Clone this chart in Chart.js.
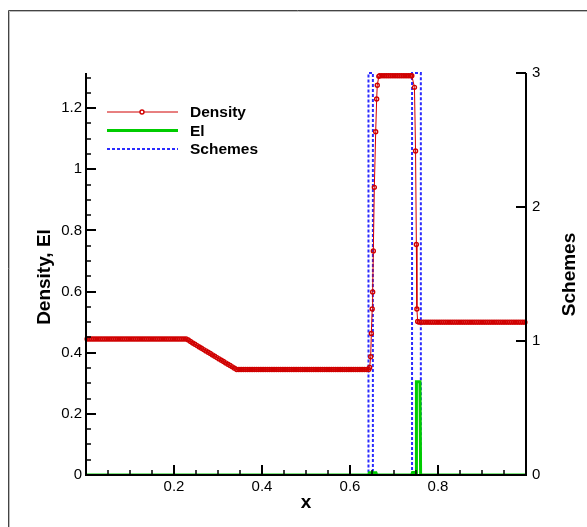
<!DOCTYPE html>
<html>
<head>
<meta charset="utf-8">
<script src="https://cdn.jsdelivr.net/npm/chart.js@4.4.1/dist/chart.umd.min.js"></script>
<style>
  html, body { margin: 0; padding: 0; background: #fff; }
  canvas { display: block; }
</style>
</head>
<body>
<canvas id="chart" width="587" height="527"></canvas>
<script>
// Density (left axis)
const densityX = [
  0.0025,0.0075,0.0125,0.0175,0.0225,0.0275,0.0325,0.0375,0.0425,0.0475,
  0.0525,0.0575,0.0625,0.0675,0.0725,0.0775,0.0825,0.0875,0.0925,0.0975,
  0.1025,0.1075,0.1125,0.1175,0.1225,0.1275,0.1325,0.1375,0.1425,0.1475,
  0.1525,0.1575,0.1625,0.1675,0.1725,0.1775,0.1825,0.1875,0.1925,0.1975,
  0.2025,0.2075,0.2125,0.2175,0.2225,0.2275,
  0.2325,0.2375,0.2425,0.2475,0.2525,0.2575,0.2625,0.2675,0.2725,0.2775,
  0.2825,0.2875,0.2925,0.2975,0.3025,0.3075,0.3125,0.3175,0.3225,0.3275,
  0.3325,0.3375,
  0.3425,0.3475,0.3525,0.3575,0.3625,0.3675,0.3725,0.3775,0.3825,0.3875,
  0.3925,0.3975,0.4025,0.4075,0.4125,0.4175,0.4225,0.4275,0.4325,0.4375,
  0.4425,0.4475,0.4525,0.4575,0.4625,0.4675,0.4725,0.4775,0.4825,0.4875,
  0.4925,0.4975,0.5025,0.5075,0.5125,0.5175,0.5225,0.5275,0.5325,0.5375,
  0.5425,0.5475,0.5525,0.5575,0.5625,0.5675,0.5725,0.5775,0.5825,0.5875,
  0.5925,0.5975,0.6025,0.6075,0.6125,0.6175,0.6225,0.6275,0.6325,0.6375,
  0.6425,
  0.6447,0.647,0.6485,0.6505,0.6515,0.653,0.6553,0.6584,0.6606,0.662,0.6655,
  0.6675,0.6725,0.6775,0.6825,0.6875,0.6925,0.6975,0.7025,0.7075,0.7125,
  0.7175,0.7225,0.7275,0.7325,0.7375,0.7405,
  0.7465,0.749,0.7508,0.752,0.7538,
  0.7575,0.7625,0.7675,0.7725,0.7775,0.7825,0.7875,0.7925,0.7975,
  0.8025,0.8075,0.8125,0.8175,0.8225,0.8275,0.8325,0.8375,0.8425,0.8475,
  0.8525,0.8575,0.8625,0.8675,0.8725,0.8775,0.8825,0.8875,0.8925,0.8975,
  0.9025,0.9075,0.9125,0.9175,0.9225,0.9275,0.9325,0.9375,0.9425,0.9475,
  0.9525,0.9575,0.9625,0.9675,0.9725,0.9775,0.9825,0.9875,0.9925,0.9975
];
const density = [
  0.445,0.445,0.445,0.445,0.445,0.445,0.445,0.445,0.445,0.445,
  0.445,0.445,0.445,0.445,0.445,0.445,0.445,0.445,0.445,0.445,
  0.445,0.445,0.445,0.445,0.445,0.445,0.445,0.445,0.445,0.445,
  0.445,0.445,0.445,0.445,0.445,0.445,0.445,0.445,0.445,0.445,
  0.445,0.445,0.445,0.445,0.445,0.445,
  0.4415,0.4365,0.432,0.4276,0.4233,0.4189,0.4146,0.4102,0.4059,0.4015,
  0.3972,0.3928,0.3885,0.3841,0.3798,0.3754,0.3711,0.3667,0.3624,0.358,
  0.3537,0.3495,
  0.345,0.345,0.345,0.345,0.345,0.345,0.345,0.345,0.345,0.345,
  0.345,0.345,0.345,0.345,0.345,0.345,0.345,0.345,0.345,0.345,
  0.345,0.345,0.345,0.345,0.345,0.345,0.345,0.345,0.345,0.345,
  0.345,0.345,0.345,0.345,0.345,0.345,0.345,0.345,0.345,0.345,
  0.345,0.345,0.345,0.345,0.345,0.345,0.345,0.345,0.345,0.345,
  0.345,0.345,0.345,0.345,0.345,0.345,0.345,0.345,0.345,0.345,
  0.345,
  0.352,0.387,0.463,0.543,0.599,0.733,0.941,1.123,1.23,1.275,1.304,
  1.306,1.306,1.306,1.306,1.306,1.306,1.306,1.306,1.306,1.306,
  1.306,1.306,1.306,1.306,1.306,1.306,
  1.268,1.06,0.754,0.543,0.502,
  0.5,0.5,0.5,0.5,0.5,0.5,0.5,0.5,0.5,
  0.5,0.5,0.5,0.5,0.5,0.5,0.5,0.5,0.5,0.5,
  0.5,0.5,0.5,0.5,0.5,0.5,0.5,0.5,0.5,0.5,
  0.5,0.5,0.5,0.5,0.5,0.5,0.5,0.5,0.5,0.5,
  0.5,0.5,0.5,0.5,0.5,0.5,0.5,0.5,0.5,0.5
];

// El (left axis)
const elX = [0, 0.642, 0.644, 0.659, 0.661, 0.74, 0.742, 0.75, 0.751, 0.759, 0.7605, 1];
const el  = [0, 0, 0.007, 0.007, 0, 0, 0.008, 0.008, 0.305, 0.305, 0, 0];

// Schemes (right axis)
const schemesX = [0, 0.642, 0.642, 0.652, 0.652, 0.741, 0.741, 0.761, 0.761, 1];
const schemes  = [0, 0, 3, 3, 0, 0, 3, 3, 0, 0];

// tick labels
const xTickLabels = [0.2, 0.4, 0.6, 0.8];
const yTickLabels = [0, 0.2, 0.4, 0.6, 0.8, 1, 1.2];
const y2TickLabels = [0, 1, 2, 3];

const FONT = '"Liberation Sans", Arial, Helvetica, sans-serif';
const RED = '#d00000';
const GREEN = '#00cc00';
const BLUE = '#2b2bff';

const toPoints = (xs, ys) => xs.map((x, i) => ({ x: x, y: ys[i] }));
const near = (v, list) => list.some((t) => Math.abs(t - v) < 1e-6);
const fmt = (v) => String(+Number(v).toFixed(2));

// frame, inward ticks, axis lines, titles and legend
const decorations = {
  id: "decorations",
  beforeDraw(chart) {
    const ctx = chart.ctx;
    ctx.save();
    ctx.fillStyle = "#fff";
    ctx.fillRect(0, 0, chart.width, chart.height);
    ctx.lineWidth = 1;
    ctx.strokeStyle = "#444";
    ctx.beginPath();
    ctx.moveTo(8.5, chart.height);
    ctx.lineTo(8.5, 10.5);
    ctx.lineTo(chart.width, 10.5);
    ctx.stroke();
    ctx.strokeStyle = "#bbb";
    ctx.beginPath();
    ctx.moveTo(9.5, chart.height);
    ctx.lineTo(9.5, 11.5);
    ctx.lineTo(chart.width, 11.5);
    ctx.stroke();
    ctx.restore();
  },
  afterDatasetsDraw(chart) {
    const { ctx, chartArea: a, scales } = chart;
    const L = Math.round(a.left), R = Math.round(a.right);
    const T = Math.round(a.top), B = Math.round(a.bottom);
    ctx.save();
    ctx.strokeStyle = "#000";
    const tick = (x1, y1, x2, y2, w) => {
      ctx.lineWidth = w;
      ctx.beginPath();
      ctx.moveTo(x1, y1);
      ctx.lineTo(x2, y2);
      ctx.stroke();
    };
    scales.x.ticks.forEach((t) => {
      const p = Math.round(scales.x.getPixelForValue(t.value));
      const major = near(t.value, xTickLabels);
      tick(p, B, p, B - (major ? 10 : 5), major ? 2 : 1.5);
    });
    scales.y.ticks.forEach((t) => {
      const p = Math.round(scales.y.getPixelForValue(t.value));
      const major = near(t.value, yTickLabels);
      tick(L, p, L + (major ? 10 : 5), p, major ? 2 : 1.5);
    });
    scales.y2.ticks.forEach((t) => {
      const p = Math.round(scales.y2.getPixelForValue(t.value));
      tick(R, p, R - 10, p, 2);
    });
    ctx.lineWidth = 2;
    ctx.lineJoin = "miter";
    ctx.beginPath();
    ctx.moveTo(L, T);
    ctx.lineTo(L, B);
    ctx.lineTo(R, B);
    ctx.lineTo(R, T);
    ctx.stroke();

    // axis titles
    ctx.fillStyle = "#000";
    ctx.font = "bold 19px " + FONT;
    ctx.textAlign = "center";
    ctx.textBaseline = "alphabetic";
    ctx.fillText("x", (L + R) / 2, 508);
    ctx.save();
    ctx.translate(50, 277);
    ctx.rotate(-Math.PI / 2);
    ctx.fillText("Density, El", 0, 0);
    ctx.restore();
    ctx.save();
    ctx.translate(575, 274.5);
    ctx.rotate(-Math.PI / 2);
    ctx.fillText("Schemes", 0, 0);
    ctx.restore();

    // legend
    const ds = chart.data.datasets;
    const rows = [112, 130.5, 149];
    ctx.font = "bold 15.5px " + FONT;
    ctx.textAlign = "left";
    ds.forEach((d, i) => {
      const y = rows[i];
      ctx.save();
      ctx.strokeStyle = d.borderColor;
      ctx.lineWidth = d.borderWidth;
      ctx.setLineDash(d.borderDash || []);
      ctx.beginPath();
      ctx.moveTo(107, y);
      ctx.lineTo(178, y);
      ctx.stroke();
      if (d.pointRadius > 0) {
        ctx.setLineDash([]);
        ctx.lineWidth = d.pointBorderWidth;
        ctx.strokeStyle = d.pointBorderColor;
        ctx.fillStyle = "#fff";
        ctx.beginPath();
        ctx.arc(142, y, d.pointRadius, 0, Math.PI * 2);
        ctx.fill();
        ctx.stroke();
      }
      ctx.restore();
      ctx.fillText(d.label, 190, y + 5);
    });
    ctx.restore();
  }
};

Chart.defaults.font.family = FONT;
Chart.defaults.font.size = 15;
Chart.defaults.color = "#000";

const ctx = document.getElementById("chart").getContext("2d");

new Chart(ctx, {
  type: "line",
  data: {
    datasets: [
      {
        label: "Density",
        data: toPoints(densityX, density),
        yAxisID: "y",
        borderColor: RED,
        borderWidth: 1,
        pointRadius: 2,
        pointBorderWidth: 1.4,
        pointBorderColor: RED,
        pointBackgroundColor: "rgba(255,255,255,0)",
        clip: false,
      },
      {
        label: "El",
        data: toPoints(elX, el),
        yAxisID: "y",
        borderColor: GREEN,
        borderWidth: 3,
        pointRadius: 0,
      },
      {
        label: "Schemes",
        data: toPoints(schemesX, schemes),
        yAxisID: "y2",
        borderColor: BLUE,
        borderWidth: 2,
        borderDash: [3, 2],
        pointRadius: 0,
        clip: false,
      },
    ],
  },
  options: {
    responsive: false,
    animation: false,
    layout: { padding: { top: 73, left: 0, right: 0, bottom: 0 } },
    plugins: {
      legend: { display: false },
      tooltip: { enabled: false },
    },
    scales: {
      x: {
        type: "linear",
        min: 0,
        max: 1,
        grid: { display: false, drawTicks: false },
        border: { display: false },
        afterFit: (scale) => { scale.height = 52; },
        ticks: {
          stepSize: 0.05,
          autoSkip: false,
          maxRotation: 0,
          padding: 3,
          callback: (v) => (near(v, xTickLabels) ? fmt(v) : ""),
        },
      },
      y: {
        position: "left",
        min: 0,
        max: 1.315,
        grid: { display: false, drawTicks: false },
        border: { display: false },
        afterFit: (scale) => { scale.width = 86; },
        ticks: {
          stepSize: 0.05,
          includeBounds: false,
          autoSkip: false,
          padding: 4,
          callback: (v) => (near(v, yTickLabels) ? fmt(v) : ""),
        },
      },
      y2: {
        position: "right",
        min: 0,
        max: 3,
        grid: { display: false, drawTicks: false },
        border: { display: false },
        afterFit: (scale) => { scale.width = 61; },
        ticks: {
          stepSize: 1,
          autoSkip: false,
          padding: 6,
          callback: (v) => (near(v, y2TickLabels) ? fmt(v) : ""),
        },
      },
    },
  },
  plugins: [decorations],
});
</script>
</body>
</html>
